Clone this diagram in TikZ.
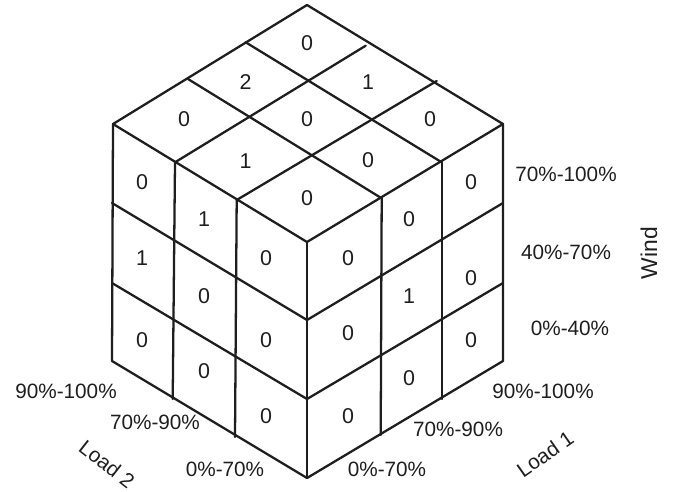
\documentclass[tikz,border=0pt]{standalone}
\usepackage{fontspec}
\setmainfont{Liberation Sans}
\definecolor{ink}{HTML}{1E1E1E}
\begin{document}
\begin{tikzpicture}[x=0.02cm,y=-0.02cm,
  edge/.style={line width=1.3pt, draw=ink, line cap=round, line join=round},
  num/.style={font=\fontsize{12.2}{14}\selectfont, text=ink, inner sep=0pt},
  lab/.style={font=\fontsize{11.8}{14}\selectfont, text=ink, inner sep=0pt}]
\useasboundingbox (0,0) rectangle (682,491);
% cube corners
\coordinate (T) at (307,5);
\coordinate (L) at (113,124);
\coordinate (R) at (503,124);
\coordinate (C) at (307,242);
\coordinate (LB) at (112,361);
\coordinate (RB) at (503,361);
\coordinate (B) at (307,478);
% top face grid
\coordinate (a1) at (245.7,42.3);  \coordinate (a2) at (441.7,162.3);
\coordinate (b1) at (188,79);      \coordinate (b2) at (381.7,198.3);
\coordinate (c1) at (365.7,45.7);  \coordinate (c2) at (175,162.3);
\coordinate (d1) at (436.7,81);    \coordinate (d2) at (236.7,200);
% vertical grid ends
\coordinate (lv1) at (172.7,399);  \coordinate (lv2) at (235,437);
\coordinate (rv1) at (441.7,399);  \coordinate (rv2) at (380.7,435);
% row lines
\coordinate (l1) at (112,203);  \coordinate (l2) at (112,283);
\coordinate (r1) at (503,203);  \coordinate (r2) at (503,283);
\coordinate (m1) at (307,320);  \coordinate (m2) at (307,399);
% outline
\draw[edge] (T) -- (R) -- (RB) -- (B) -- (LB) -- (L) -- cycle;
\draw[edge] (L) -- (C) -- (R);
\draw[edge] (C) -- (B);
% top grid
\draw[edge] (a1) -- (a2);
\draw[edge] (b1) -- (b2);
\draw[edge] (c1) -- (c2);
\draw[edge] (d1) -- (d2);
% verticals
\draw[edge] (c2) -- (lv1);
\draw[edge] (d2) -- (lv2);
\draw[edge] (a2) -- (rv1);
\draw[edge] (b2) -- (rv2);
% rows
\draw[edge] (l1) -- (m1) -- (r1);
\draw[edge] (l2) -- (m2) -- (r2);
% top numbers
\node[num] (t1) at (307,43) {0};
\node[num] (t2) at (245.7,82) {2};
\node[num] (t3) at (368,82) {1};
\node[num] (t4) at (184,119) {0};
\node[num] (t5) at (307,119) {0};
\node[num] (t6) at (430,119) {0};
\node[num] (t7) at (245.7,161) {1};
\node[num] (t8) at (368,160) {0};
\node[num] (t9) at (307,198) {0};
% left face numbers
\node[num] (p1) at (142,182) {0};
\node[num] (p2) at (142,258) {1};
\node[num] (p3) at (142,340) {0};
\node[num] (p4) at (204,219) {1};
\node[num] (p5) at (204,296) {0};
\node[num] (p6) at (204,371) {0};
\node[num] (p7) at (266,258) {0};
\node[num] (p8) at (266,340) {0};
\node[num] (p9) at (266,416) {0};
% right face numbers
\node[num] (q1) at (348,258) {0};
\node[num] (q2) at (348,333) {0};
\node[num] (q3) at (348,416) {0};
\node[num] (q4) at (409,219) {0};
\node[num] (q5) at (409,296) {1};
\node[num] (q6) at (409,378) {0};
\node[num] (q7) at (471,182) {0};
\node[num] (q8) at (471,278) {0};
\node[num] (q9) at (471,340) {0};
% wind labels
\node[lab] (w1) at (566,174) {70\%-100\%};
\node[lab] (w2) at (566,252) {40\%-70\%};
\node[lab] (w3) at (570,328) {0\%-40\%};
\node[lab, font=\fontsize{13}{15}\selectfont, rotate=90] (wind) at (649,253) {Wind};
% load 2 labels
\node[lab] (x1) at (66,391) {90\%-100\%};
\node[lab] (x2) at (155,422) {70\%-90\%};
\node[lab] (x3) at (225,469) {0\%-70\%};
\node[lab, rotate=-38] (load2) at (107,464) {Load 2};
% load 1 labels
\node[lab] (y1) at (543,391) {90\%-100\%};
\node[lab] (y2) at (458,429) {70\%-90\%};
\node[lab] (y3) at (387,469) {0\%-70\%};
\node[lab, rotate=35] (load1) at (545,454) {Load 1};
\end{tikzpicture}
\end{document}
